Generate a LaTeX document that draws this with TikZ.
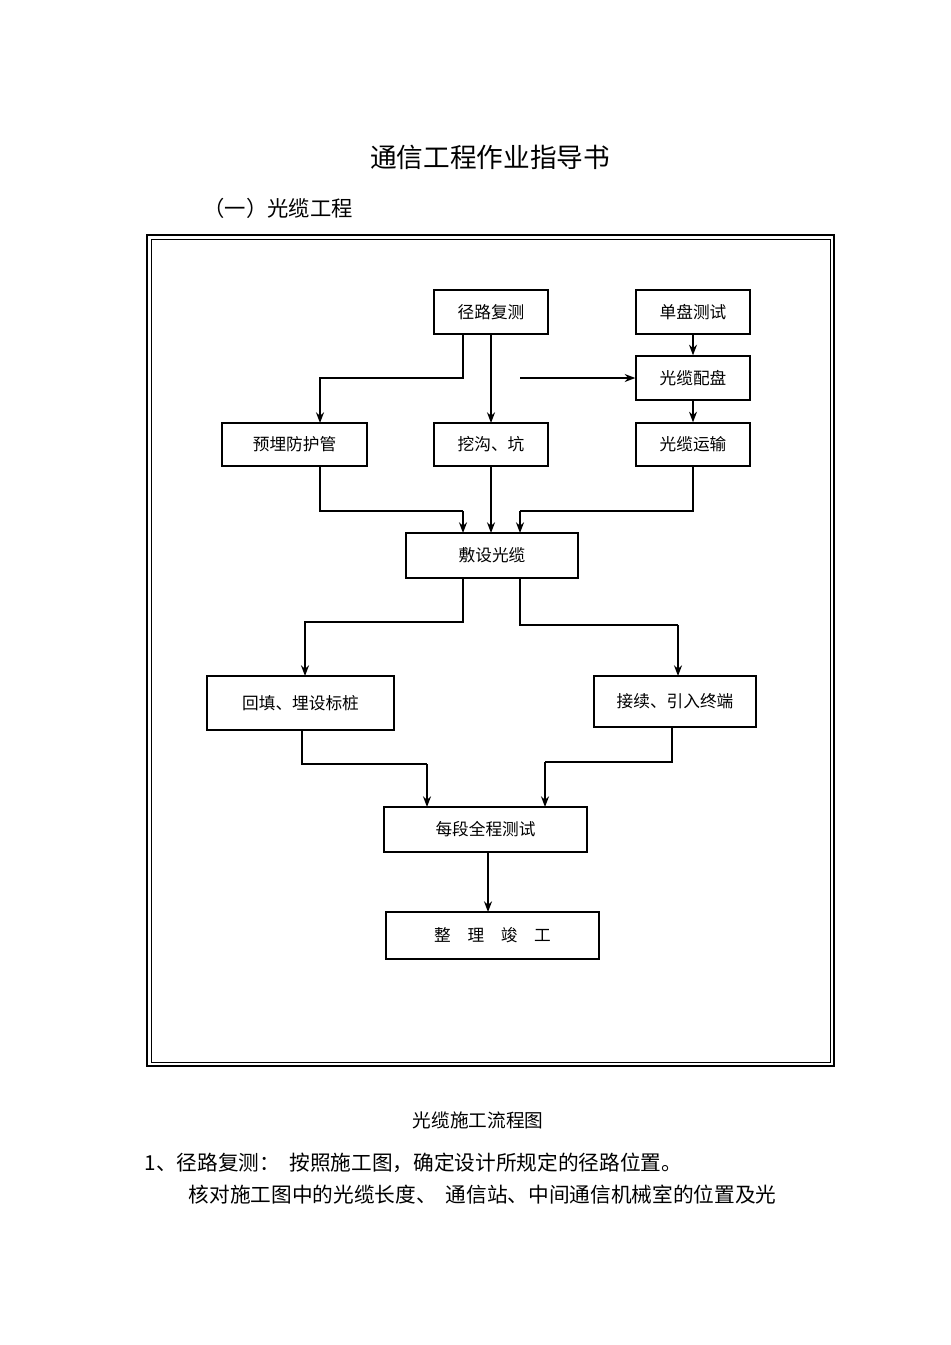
\documentclass[tikz,border=0pt]{standalone}
\usepackage{fontspec}
\setmainfont{Noto Sans CJK SC}
\usetikzlibrary{arrows.meta}
\begin{document}
\begin{tikzpicture}[x=0.75pt,y=-0.75pt,
  box/.style={draw,line width=1pt,inner sep=0pt,font=\fontsize{12.5}{14}\selectfont},
  ln/.style={line width=1.2pt},
  arr/.style={ln,-{Stealth[length=8pt,width=6pt]}}]
\useasboundingbox (0,0) rectangle (950,1345);
\node[font=\fontsize{20}{22}\selectfont] (title) at (490,157) {通信工程作业指导书};
\node[font=\fontsize{16}{18}\selectfont] (sub) at (278,208) {（一）光缆工程};
% frame
\draw[line width=2pt] (147,235) rectangle (834,1066);
\draw[line width=0.6pt] (151,239) rectangle (830,1062);
\newcommand\bx[6]{\node[box,minimum width={(#4-#2)*0.75pt},minimum height={(#5-#3)*0.75pt}] (#1) at ({(#2+#4)/2},{(#3+#5)/2}) {#6};}
\bx{lj}{434}{290}{548}{334}{径路复测}
\bx{dp}{636}{290}{750}{334}{单盘测试}
\bx{pp}{636}{356}{750}{400}{光缆配盘}
\bx{ym}{222}{423}{367}{466}{预埋防护管}
\bx{wg}{434}{423}{548}{466}{挖沟、坑}
\bx{ys}{636}{423}{750}{466}{光缆运输}
\bx{fs}{406}{533}{578}{578}{敷设光缆}
\bx{ht}{207}{676}{394}{730}{回填、埋设标桩}
\bx{jx}{594}{676}{756}{727}{接续、引入终端}
\bx{mc}{384}{807}{587}{852}{每段全程测试}
\bx{zl}{386}{912}{599}{959}{整\quad 理\quad 竣\quad 工}
\coordinate (a1) at (463,334);\coordinate (a2) at (320,423);
\coordinate (b1) at (491,334);\coordinate (b2) at (491,423);
\coordinate (c1) at (520,378);
\coordinate (d1) at (320,466);\coordinate (d2) at (463,533);
\coordinate (e1) at (491,466);\coordinate (e2) at (491,533);
\coordinate (f1) at (693,466);\coordinate (f2) at (520,533);
\coordinate (g1) at (463,578);\coordinate (g2) at (305,676);
\coordinate (h1) at (520,578);\coordinate (h2) at (678,676);
\coordinate (i1) at (302,730);\coordinate (i2) at (427,807);
\coordinate (j1) at (672,727);\coordinate (j2) at (545,807);
\coordinate (k1) at (488,852);\coordinate (k2) at (488,912);
\draw[arr] (a1) |- (320,378) -- (a2);
\draw[arr] (b1) -- (b2);
\draw[arr] (c1) -- (pp.west);
\draw[arr] (dp) -- (pp);
\draw[arr] (pp) -- (ys);
\draw[line width=0.8pt] (d1) |- (463,511); \draw[arr] (463,511) -- (d2);
\draw[arr] (e1) -- (e2);
\draw[line width=0.8pt] (f1) |- (520,511); \draw[arr] (520,511) -- (f2);
\draw[arr] (g1) |- (305,622) -- (g2);
\draw[line width=0.8pt] (h1) |- (678,625); \draw[arr] (678,625) -- (h2);
\draw[line width=0.8pt] (i1) |- (427,764); \draw[arr] (427,764) -- (i2);
\draw[line width=0.8pt] (j1) |- (545,762); \draw[arr] (545,762) -- (j2);
\draw[arr] (k1) -- (k2);
\node[font=\fontsize{14}{16}\selectfont] (cap) at (478,1120) {光缆施工流程图};
\node[font=\fontsize{15.5}{18}\selectfont,anchor=west] (t1) at (140,1163) {1、径路复测：\ \ 按照施工图，确定设计所规定的径路位置。};
\node[font=\fontsize{15.5}{18}\selectfont,anchor=west] (t2) at (184,1195) {核对施工图中的光缆长度、\ \ 通信站、中间通信机械室的位置及光};
\end{tikzpicture}
\end{document}
